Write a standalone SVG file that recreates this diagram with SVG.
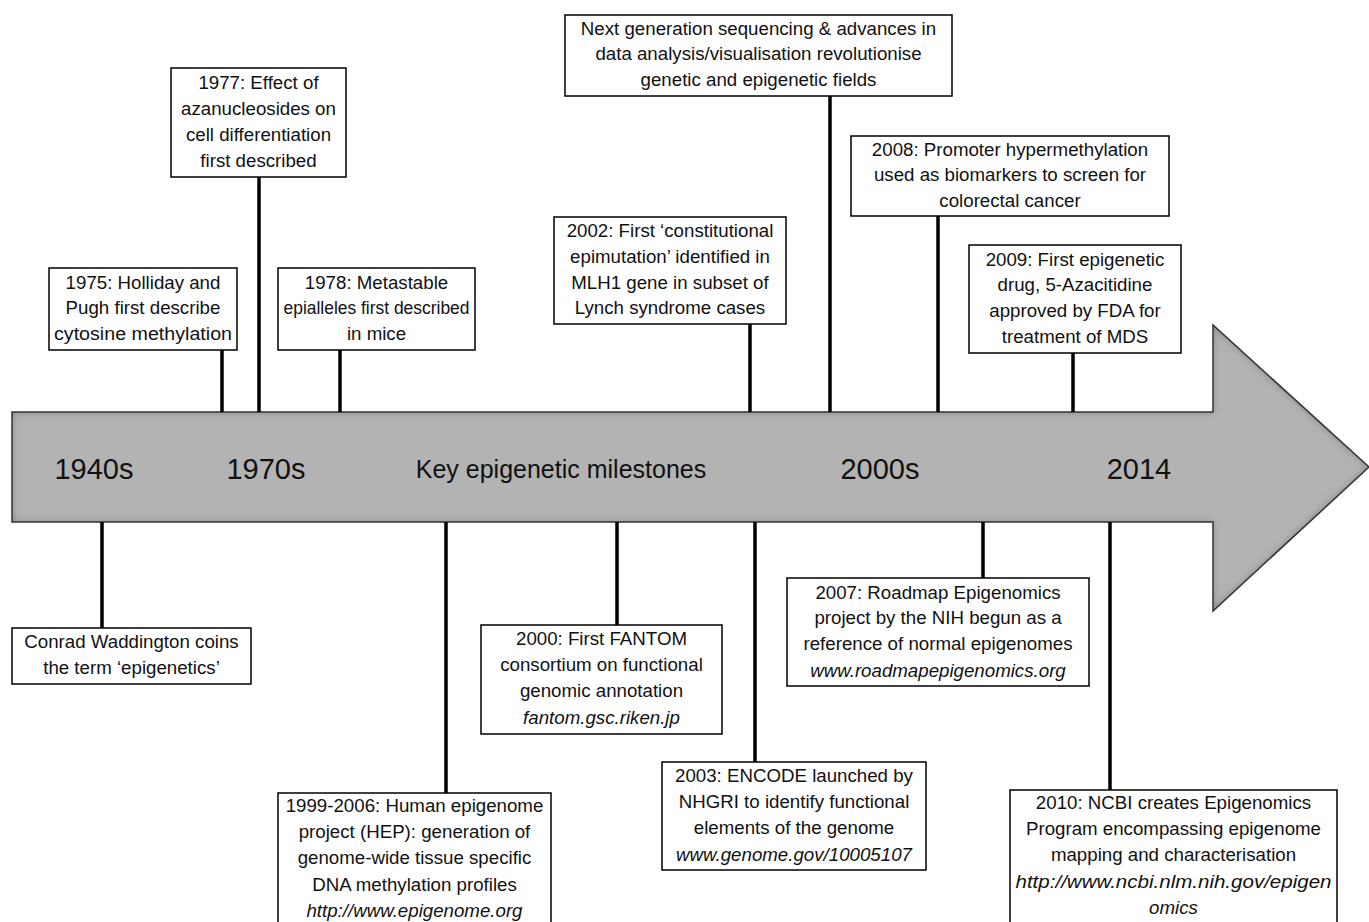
<svg xmlns="http://www.w3.org/2000/svg" width="1369" height="922" viewBox="0 0 1369 922">
<style>
.box{fill:#fff;stroke:#000;stroke-width:1.5}
.t{font-family:"Liberation Sans",Arial,sans-serif;font-size:18.7px;fill:#111;text-anchor:middle}
.i{font-style:italic}
.big{font-family:"Liberation Sans",Arial,sans-serif;font-size:29px;fill:#111;text-anchor:middle}
.mid{font-family:"Liberation Sans",Arial,sans-serif;font-size:25px;fill:#111;text-anchor:middle}
.c{stroke:#000;stroke-width:3.5;fill:none}
</style>
<defs>
<filter id="inner" x="-5%" y="-5%" width="110%" height="110%">
<feGaussianBlur in="SourceAlpha" stdDeviation="4" result="b"/>
<feComposite in="SourceAlpha" in2="b" operator="out" result="edge"/>
<feFlood flood-color="#555" flood-opacity="0.7"/>
<feComposite in2="edge" operator="in" result="sh"/>
<feMerge><feMergeNode in="SourceGraphic"/><feMergeNode in="sh"/></feMerge>
</filter>
</defs>
<rect width="1369" height="922" fill="#fff"/>
<g id="arrow">
<path d="M12,412 H1213 V325 L1369,467 L1213,611 V522 H12 Z" fill="#b3b3b3" filter="url(#inner)"/>
<path d="M12,412 H1213 V325 L1369,467 L1213,611 V522 H12 Z" fill="none" stroke="#333" stroke-width="1.5"/>
<text class="big" x="94" y="479">1940s</text>
<text class="big" x="266" y="479">1970s</text>
<text class="mid" x="561" y="478">Key epigenetic milestones</text>
<text class="big" x="880" y="479">2000s</text>
<text class="big" x="1139" y="479">2014</text>
</g>
<g id="connectors">
<line class="c" x1="102" y1="522" x2="102" y2="628"/>
<line class="c" x1="222" y1="350" x2="222" y2="412"/>
<line class="c" x1="259" y1="177" x2="259" y2="412"/>
<line class="c" x1="340" y1="350" x2="340" y2="412"/>
<line class="c" x1="446" y1="522" x2="446" y2="793"/>
<line class="c" x1="617" y1="522" x2="617" y2="625"/>
<line class="c" x1="750" y1="324" x2="750" y2="412"/>
<line class="c" x1="830" y1="96" x2="830" y2="412"/>
<line class="c" x1="755" y1="522" x2="755" y2="762"/>
<line class="c" x1="983" y1="522" x2="983" y2="578"/>
<line class="c" x1="938" y1="216" x2="938" y2="412"/>
<line class="c" x1="1073" y1="353" x2="1073" y2="412"/>
<line class="c" x1="1110" y1="522" x2="1110" y2="790"/>
</g>
<g id="n1940">
<rect class="box" x="12" y="628" width="239" height="56"/>
<text class="t" x="131.5" y="648">Conrad Waddington coins</text>
<text class="t" x="131.5" y="674">the term ‘epigenetics’</text>
</g>
<g id="n1975">
<rect class="box" x="49" y="268" width="188" height="82"/>
<text class="t" x="143" y="289">1975: Holliday and</text>
<text class="t" x="143" y="314">Pugh first describe</text>
<text class="t" x="143" y="340" textLength="178" lengthAdjust="spacingAndGlyphs">cytosine methylation</text>
</g>
<g id="n1977">
<rect class="box" x="171" y="68" width="175" height="109"/>
<text class="t" x="258.5" y="89">1977: Effect of</text>
<text class="t" x="258.5" y="115">azanucleosides on</text>
<text class="t" x="258.5" y="141">cell differentiation</text>
<text class="t" x="258.5" y="167">first described</text>
</g>
<g id="n1978">
<rect class="box" x="278" y="268" width="197" height="82"/>
<text class="t" x="376.5" y="289">1978: Metastable</text>
<text class="t" x="376.5" y="314" textLength="186" lengthAdjust="spacingAndGlyphs">epialleles first described</text>
<text class="t" x="376.5" y="340">in mice</text>
</g>
<g id="n1999">
<rect class="box" x="278" y="793" width="273" height="135"/>
<text class="t" x="414.5" y="812">1999-2006: Human epigenome</text>
<text class="t" x="414.5" y="838">project (HEP): generation of</text>
<text class="t" x="414.5" y="864">genome-wide tissue specific</text>
<text class="t" x="414.5" y="891">DNA methylation profiles</text>
<text class="t i" x="414.5" y="917">http://www.epigenome.org</text>
</g>
<g id="n2000">
<rect class="box" x="481" y="625" width="241" height="109"/>
<text class="t" x="601.5" y="645">2000: First FANTOM</text>
<text class="t" x="601.5" y="671">consortium on functional</text>
<text class="t" x="601.5" y="697">genomic annotation</text>
<text class="t i" x="601.5" y="724">fantom.gsc.riken.jp</text>
</g>
<g id="n2002">
<rect class="box" x="554" y="217" width="232" height="107"/>
<text class="t" x="670" y="237">2002: First ‘constitutional</text>
<text class="t" x="670" y="263">epimutation’ identified in</text>
<text class="t" x="670" y="289">MLH1 gene in subset of</text>
<text class="t" x="670" y="314">Lynch syndrome cases</text>
</g>
<g id="nNGS">
<rect class="box" x="565" y="15" width="387" height="81"/>
<text class="t" x="758.5" y="35">Next generation sequencing &amp; advances in</text>
<text class="t" x="758.5" y="60">data analysis/visualisation revolutionise</text>
<text class="t" x="758.5" y="86">genetic and epigenetic fields</text>
</g>
<g id="n2003">
<rect class="box" x="662" y="762" width="264" height="108"/>
<text class="t" x="794" y="782">2003: ENCODE launched by</text>
<text class="t" x="794" y="808">NHGRI to identify functional</text>
<text class="t" x="794" y="834">elements of the genome</text>
<text class="t i" x="794" y="861">www.genome.gov/10005107</text>
</g>
<g id="n2007">
<rect class="box" x="787" y="578" width="302" height="108"/>
<text class="t" x="938" y="599">2007: Roadmap Epigenomics</text>
<text class="t" x="938" y="624">project by the NIH begun as a</text>
<text class="t" x="938" y="650">reference of normal epigenomes</text>
<text class="t i" x="938" y="677">www.roadmapepigenomics.org</text>
</g>
<g id="n2008">
<rect class="box" x="851" y="136" width="318" height="80"/>
<text class="t" x="1010" y="156">2008: Promoter hypermethylation</text>
<text class="t" x="1010" y="181">used as biomarkers to screen for</text>
<text class="t" x="1010" y="207">colorectal cancer</text>
</g>
<g id="n2009">
<rect class="box" x="969" y="245" width="212" height="108"/>
<text class="t" x="1075" y="266">2009: First epigenetic</text>
<text class="t" x="1075" y="291">drug, 5-Azacitidine</text>
<text class="t" x="1075" y="317">approved by FDA for</text>
<text class="t" x="1075" y="343">treatment of MDS</text>
</g>
<g id="n2010">
<rect class="box" x="1010" y="790" width="327" height="138"/>
<text class="t" x="1173.5" y="809">2010: NCBI creates Epigenomics</text>
<text class="t" x="1173.5" y="835">Program encompassing epigenome</text>
<text class="t" x="1173.5" y="861">mapping and characterisation</text>
<text class="t i" x="1173.5" y="888" textLength="316" lengthAdjust="spacingAndGlyphs">http://www.ncbi.nlm.nih.gov/epigen</text>
<text class="t i" x="1173.5" y="914">omics</text>
</g>
</svg>
